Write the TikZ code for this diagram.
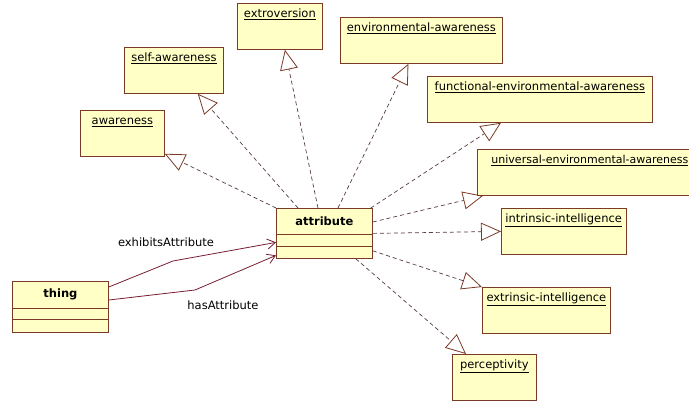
\documentclass[tikz,border=0pt]{standalone}
\usepackage{fontspec}
\setmainfont{DejaVu Sans}
\usetikzlibrary{arrows.meta,calc}
\definecolor{umlfill}{RGB}{255,255,198}
\definecolor{umlline}{RGB}{122,58,40}
\definecolor{assocline}{RGB}{120,30,50}
\definecolor{genline}{RGB}{90,60,60}

\begin{document}
\begin{tikzpicture}[x=1pt, y=-1pt,
  font=\fontsize{11.5}{13}\selectfont,
  instance/.style = {shape=rectangle, draw=umlline, fill=umlfill,
    line width=0.8pt, anchor=north west, inner xsep=4pt, inner ysep=4pt,
    text height=10pt, text depth=28pt},
  umlclass/.style = {shape=rectangle, draw=umlline, fill=umlfill,
    line width=0.8pt, anchor=north west},
  classtitle/.style = {font=\fontsize{11.5}{13}\selectfont\bfseries},
  compartment/.style = {draw=umlline, line width=0.8pt},
  realize/.style = {draw=genline, line width=0.7pt, dash pattern=on 4pt off 3pt,
    -{Triangle[open, length=20pt, width=18pt, line width=0.8pt, color=umlline]}},
  assoc/.style = {draw=assocline, line width=0.8pt,
    -{Straight Barb[length=8pt, width=10pt]}},
  rolename/.style = {inner sep=0pt}]
  \fill[white] (0,0) rectangle (689,403);
  \useasboundingbox (0,0) rectangle (689,403);

  \node[instance, minimum width=84pt] (awareness) at (80,110) {\underline{awareness}};
  \node[instance, minimum width=99pt] (selfaware) at (124,47) {\underline{self-awareness}};
  \node[instance, minimum width=85pt] (extroversion) at (237,3) {\underline{extroversion}};
  \node[instance, minimum width=162pt] (envaware) at (340,17) {\underline{environmental-awareness}};
  \node[instance, minimum width=225pt] (funcenv) at (427,76) {\underline{functional-environmental-awareness}};
  \node[instance, minimum width=225pt, inner xsep=3pt, font=\fontsize{11}{13}\selectfont]
    (univenv) at (477,149) {\underline{universal-environmental-awareness}\hspace{30pt}};
  \node[instance, minimum width=124pt] (intrinsic) at (501,208) {\underline{intrinsic-intelligence}};
  \node[instance, minimum width=128pt] (extrinsic) at (482,287) {\underline{extrinsic-intelligence}};
  \node[instance, minimum width=84pt] (perceptivity) at (452,354) {\underline{perceptivity}};

  \node[umlclass, minimum width=96pt, minimum height=50pt] (attribute) at (276,208) {};
  \node[classtitle] (attributetitle) at ($(attribute.north)+(0,13)$) {attribute};
  \draw[compartment] ($(attribute.north west)+(0,26)$) -- ($(attribute.north east)+(0,26)$)
    ($(attribute.north west)+(0,38)$) -- ($(attribute.north east)+(0,38)$);

  \node[umlclass, minimum width=96pt, minimum height=51pt] (thing) at (12,281) {};
  \node[classtitle] (thingtitle) at ($(thing.north)+(0,13)$) {thing};
  \draw[compartment] ($(thing.north west)+(0,27)$) -- ($(thing.north east)+(0,27)$)
    ($(thing.north west)+(0,38)$) -- ($(thing.north east)+(0,38)$);

  \draw[realize] (attribute.north west) -- ([yshift=3pt]awareness.south east);
  \draw[realize] ([xshift=22pt]attribute.north west) -- ([xshift=-26pt]selfaware.south east);
  \draw[realize] ([xshift=42pt]attribute.north west) -- ([xshift=5pt]extroversion.south);
  \draw[realize] ([xshift=62pt]attribute.north west) -- ([xshift=-13pt]envaware.south);
  \draw[realize] ([xshift=-2pt]attribute.north east) -- ([xshift=74pt]funcenv.south west);
  \draw[realize] ([yshift=-14pt]attribute.north east) -- ([xshift=6pt]univenv.south west);
  \draw[realize] (attribute.east) -- (intrinsic.west);
  \draw[realize] ([yshift=8pt]attribute.south east) -- (extrinsic.north west);
  \draw[realize] ([xshift=-17pt]attribute.south east) -- ([xshift=14pt]perceptivity.north west);

  \draw[assoc] ([yshift=-6pt]thing.north east) -- (173,261) -- ([yshift=-9pt]attribute.west);
  \draw[assoc] ([yshift=-19pt]thing.north east) -- (195,290) -- ([yshift=-22pt]attribute.west);
  \node[rolename] (exhibits) at (166,242) {exhibitsAttribute};
  \node[rolename] (has) at (223,305) {hasAttribute};
\end{tikzpicture}
\end{document}
